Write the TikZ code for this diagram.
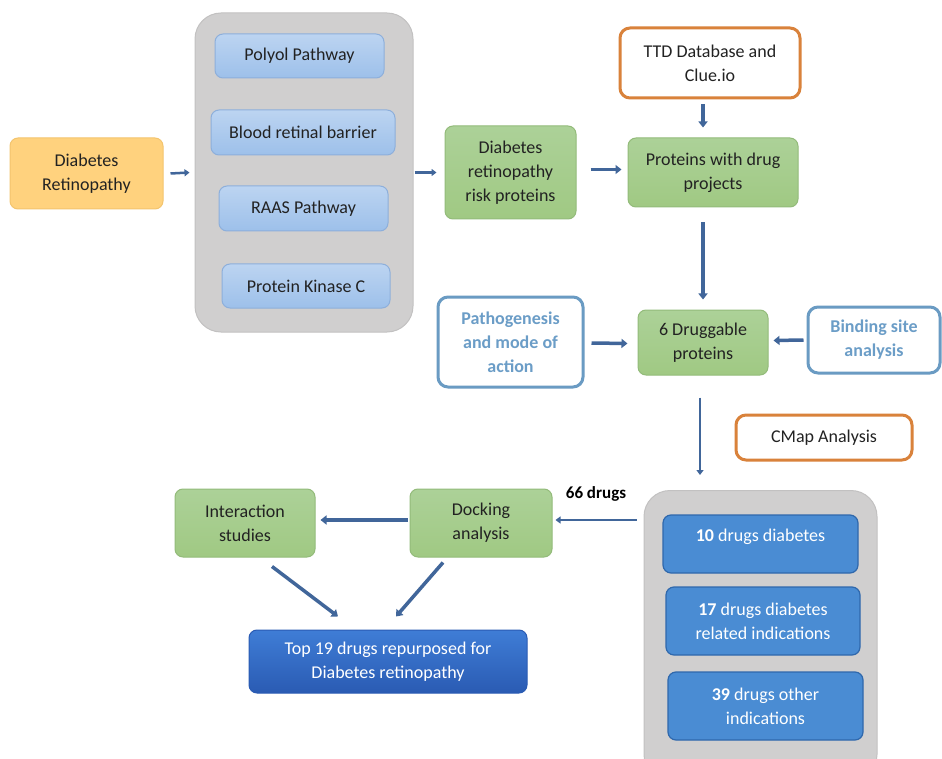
\documentclass[tikz,border=0pt]{standalone}
\usepackage{fontspec}
\setmainfont{Carlito}
\usetikzlibrary{arrows.meta}
\definecolor{arrowc}{HTML}{41669A}
\definecolor{orfill}{HTML}{FFD27E}
\definecolor{ordraw}{HTML}{F3C46E}
\definecolor{grayfill}{HTML}{D0CFCF}
\definecolor{graydraw}{HTML}{C2C1C1}
\definecolor{lbtop}{HTML}{BCD4F1}
\definecolor{lbbot}{HTML}{9DC0EA}
\definecolor{lbdraw}{HTML}{8DAFDB}
\definecolor{grtop}{HTML}{ACD198}
\definecolor{grbot}{HTML}{A0C983}
\definecolor{grdraw}{HTML}{93BB7A}
\definecolor{orline}{HTML}{D9823B}
\definecolor{blline}{HTML}{6A9BC3}
\definecolor{bltext}{HTML}{6B9DC7}
\definecolor{dbfill}{HTML}{4A8CD3}
\definecolor{dbdraw}{HTML}{2F68AC}
\definecolor{toptop}{HTML}{3F7DD6}
\definecolor{topbot}{HTML}{2A5BB3}
\definecolor{txt}{HTML}{222222}
\tikzset{
  box/.style={rounded corners=8pt, align=center, inner sep=2pt, text=txt,
    font=\fontsize{18}{24}\selectfont},
  orbox/.style={box, fill=orfill, draw=ordraw, line width=1pt},
  graybox/.style={rounded corners=26pt, fill=grayfill, draw=graydraw, line width=1pt},
  lbbox/.style={box, top color=lbtop, bottom color=lbbot, draw=lbdraw, line width=1pt},
  grbox/.style={box, top color=grtop, bottom color=grbot, draw=grdraw, line width=1pt},
  orlinebox/.style={box, fill=white, draw=orline, line width=3pt, rounded corners=10pt},
  bllinebox/.style={box, fill=white, draw=blline, line width=3pt, rounded corners=10pt,
    text=bltext, font=\bfseries\fontsize{18}{24}\selectfont},
  dbbox/.style={box, fill=dbfill, draw=dbdraw, line width=1.2pt, text=white},
  topbox/.style={box, top color=toptop, bottom color=topbot, draw=topbot, line width=1pt, text=white},
  arr/.style={draw=arrowc, line width=3.5pt, -{Triangle[width=9pt,length=6pt]}},
  thinarr/.style={draw=arrowc, line width=2.5pt, -{Triangle[width=7pt,length=5pt]}},
}
\begin{document}
\begin{tikzpicture}[x=1pt,y=-1pt]
\useasboundingbox (0,0) rectangle (942,759);
\clip (0,0) rectangle (942,759);
\fill[white] (0,0) rectangle (942,759);

% left column
\node[orbox, minimum width=153pt, minimum height=71pt] (dr) at (86.5,173.5) {Diabetes\\Retinopathy};
\node[graybox, minimum width=218pt, minimum height=319pt] (grayA) at (304,172.5) {};
\node[lbbox, minimum width=169pt, minimum height=44pt] (polyol) at (299.5,56) {Polyol Pathway};
\node[lbbox, minimum width=184pt, minimum height=45pt] (brb) at (303,132.5) {Blood retinal barrier};
\node[lbbox, minimum width=169pt, minimum height=45pt] (raas) at (303.5,208.5) {RAAS Pathway};
\node[lbbox, minimum width=168pt, minimum height=44pt] (pkc) at (306,286) {Protein Kinase C};

\node[grbox, minimum width=131pt, minimum height=93pt] (risk) at (510.5,172.5) {Diabetes\\retinopathy\\risk proteins};
\node[orlinebox, minimum width=180pt, minimum height=70pt] (ttd) at (710,63) {TTD Database and\\Clue.io};
\node[grbox, minimum width=170pt, minimum height=69pt] (pwd) at (713,172.5) {Proteins with drug\\projects};
\node[grbox, minimum width=130pt, minimum height=65pt] (six) at (703,342.5) {6 Druggable\\proteins};
\node[bllinebox, minimum width=145pt, minimum height=90pt] (patho) at (510.5,342) {Pathogenesis\\and mode of\\action};
\node[bllinebox, minimum width=132pt, minimum height=66pt] (bind) at (874,340) {Binding site\\analysis};
\node[orlinebox, minimum width=176pt, minimum height=45pt] (cmap) at (824,437.5) {CMap Analysis};

% lower right container
\node[graybox, minimum width=233pt, minimum height=290pt, anchor=north] (grayB) at (760.5,490) {};
\node[dbbox, minimum width=195pt, minimum height=58pt] (d10) at (760.5,544) {\textbf{10} drugs diabetes\\[-6pt]\mbox{}};
\node[dbbox, minimum width=194pt, minimum height=68pt] (d17) at (763,621) {\textbf{17} drugs diabetes\\related indications};
\node[dbbox, minimum width=195pt, minimum height=68pt] (d39) at (765.5,706) {\textbf{39} drugs other\\indications};

% lower left
\node[grbox, minimum width=142pt, minimum height=68pt] (dock) at (481,523) {Docking\\analysis};
\node[grbox, minimum width=140pt, minimum height=68pt] (inter) at (245,523) {Interaction\\studies};
\node[topbox, minimum width=278pt, minimum height=63pt] (top) at (388,661.5) {Top 19 drugs repurposed for\\Diabetes retinopathy};
\node[font=\bfseries\fontsize{17}{18}\selectfont, text=black] (lbl66) at (596,494) {66 drugs};

% connectors
\draw[thinarr] ([xshift=7pt]dr.east) -- ([xshift=-5pt]grayA.west);
\draw[thinarr] ([xshift=1pt]grayA.east) -- ([xshift=-8pt]risk.west);
\draw[arr] ([xshift=14pt,yshift=3pt]risk.east) -- ([xshift=-6pt,yshift=3pt]pwd.west);
\draw[arr] ([xshift=-7pt,yshift=-5pt]ttd.south) -- ([xshift=-10pt,yshift=10pt]pwd.north);
\draw[arr] ([xshift=-10pt,yshift=-15pt]pwd.south) -- ([yshift=10pt]six.north);
\draw[arr] ([xshift=7pt,yshift=-1pt]patho.east) -- ([xshift=-10pt,yshift=-1pt]six.west);
\draw[arr] ([xshift=-3pt]bind.west) -- ([xshift=5pt,yshift=2pt]six.east);
\draw[thinarr] ([xshift=-3pt,yshift=-22pt]six.south) -- ([xshift=-3pt,yshift=15pt]six.south |- grayB.north);
\draw[thinarr] ([xshift=-7pt,yshift=3pt]grayB.west |- dock.east) -- ([xshift=3pt,yshift=3pt]dock.east);
\draw[arr] ([xshift=-2pt,yshift=3pt]dock.west) -- ([xshift=5pt,yshift=3pt]inter.east);
\draw[arr] ([xshift=27pt,yshift=-9pt]inter.south) -- ([xshift=-50pt,yshift=13pt]top.north);
\draw[arr] ([xshift=-38pt,yshift=-5pt]dock.south) -- ([xshift=8pt,yshift=13pt]top.north);
\end{tikzpicture}
\end{document}
